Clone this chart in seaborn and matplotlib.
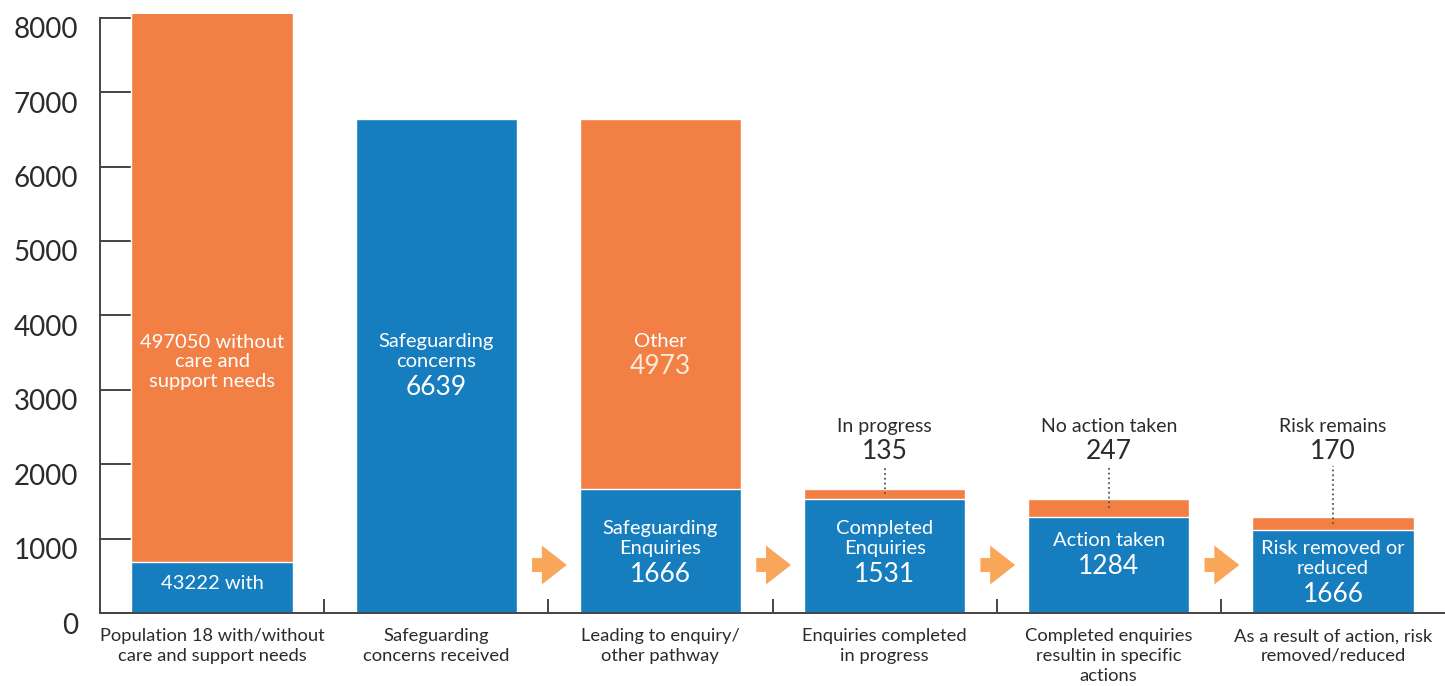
import matplotlib
matplotlib.use("Agg")
import matplotlib.pyplot as plt
import matplotlib.transforms as mtransforms
import seaborn as sns
import pandas as pd

# chart data (bar heights as drawn on the 0-8000 axis)
categories = [
    "Population 18 with/without\ncare and support needs",
    "Safeguarding\nconcerns received",
    "Leading to enquiry/\nother pathway",
    "Enquiries completed\nin progress",
    "Completed enquiries\nresultin in specific\nactions",
    "As a result of action, risk\nremoved/reduced",
]
blue_vals = [690, 6639, 1666, 1531, 1284, 1114]
orange_vals = [7940, 0, 4973, 135, 247, 170]
blue_text = ["43222 with", "Safeguarding\nconcerns", "Safeguarding\nEnquiries",
             "Completed\nEnquiries", "Action taken", "Risk removed or\nreduced"]
blue_nums = ["", "6639", "1666", "1531", "1284", "1666"]
top_text = ["", "", "", "In progress", "No action taken", "Risk remains"]
top_nums = ["", "", "", "135", "247", "170"]
yticks = [0, 1000, 2000, 3000, 4000, 5000, 6000, 7000, 8000]

BLUE = "#167dbf"
ORANGE = "#f28045"
ARROW = "#f9a65a"
DARK = "#2b2b2b"

sns.set_theme(style="white")
plt.rcParams["font.family"] = ["Lato", "DejaVu Sans"]

df = pd.DataFrame({"category": categories,
                   "blue": blue_vals,
                   "total": [b + o for b, o in zip(blue_vals, orange_vals)]})

fig = plt.figure(figsize=(14.45, 6.86), dpi=100)
ax = fig.add_axes([100 / 1445, 1 - 613 / 686, 1 - 100 / 1445, (613 - 14) / 686])

sns.barplot(data=df, x="category", y="total", color=ORANGE, saturation=1,
            width=0.72, ax=ax)
sns.barplot(data=df, x="category", y="blue", color=BLUE, saturation=1,
            width=0.72, ax=ax)

ax.set_ylim(0, 8050)
ax.set_xlim(-0.5, 5.5)
ax.set_xlabel("")
ax.set_ylabel("")

for s in ["top", "right"]:
    ax.spines[s].set_visible(False)
for s in ["left", "bottom"]:
    ax.spines[s].set_color("#444444")
    ax.spines[s].set_linewidth(1.4)
ax.spines["left"].set_bounds(0, 8000)

ax.set_yticks(yticks)
ax.set_yticklabels([str(t) for t in yticks])
ax.tick_params(axis="y", direction="in", length=24, width=1.4, color="#444444",
               pad=16, labelsize=20, labelcolor=DARK, left=True)
offset = mtransforms.ScaledTranslation(0, -10 / 100, fig.dpi_scale_trans)
for lab in ax.get_yticklabels():
    lab.set_transform(lab.get_transform() + offset)

ax.tick_params(axis="x", which="major", length=0, pad=11, labelsize=13.2,
               labelcolor=DARK)
ax.set_xticks([0.5, 1.5, 2.5, 3.5, 4.5], minor=True)
ax.tick_params(axis="x", which="minor", direction="in", length=10, width=1.4,
               color="#444444", bottom=True)
for lab in ax.get_xticklabels():
    lab.set_linespacing(1.28)

# text inside bars
ax.text(0, 3374, "497050 without\ncare and\nsupport needs", color="white",
        ha="center", va="center", fontsize=14.5, linespacing=1.2)
ax.text(2, 3650, "Other", color="white", ha="center", va="center", fontsize=14.5)
ax.text(2, 3310, "4973", color="#fde9da", ha="center", va="center", fontsize=19)

text_y = [390, 3515, 1000, 1000, 981, 733]
num_y = [0, 3025, 511, 511, 630, 255]
for i in range(len(categories)):
    ax.text(i, text_y[i], blue_text[i], color="white", ha="center", va="center",
            fontsize=14.5, linespacing=1.2)
    if blue_nums[i]:
        ax.text(i, num_y[i], blue_nums[i], color="white", ha="center",
                va="center", fontsize=19)
    if top_text[i]:
        ax.text(i, 2510, top_text[i], color=DARK, ha="center", va="center",
                fontsize=14)
        ax.text(i, 2165, top_nums[i], color=DARK, ha="center", va="center",
                fontsize=19)
        ax.plot([i, i], [blue_vals[i] + orange_vals[i] / 2, 1975], ls=":",
                color="#555555", lw=1.3)

# flow arrows between steps
for b in [1.5, 2.5, 3.5, 4.5]:
    ax.annotate("", xy=(b + 0.095, 645), xytext=(b - 0.085, 645),
                arrowprops=dict(arrowstyle="simple,head_length=0.9,head_width=1.4,tail_width=0.5",
                                color=ARROW, mutation_scale=20, lw=0))

fig.savefig("out.png", dpi=100)
